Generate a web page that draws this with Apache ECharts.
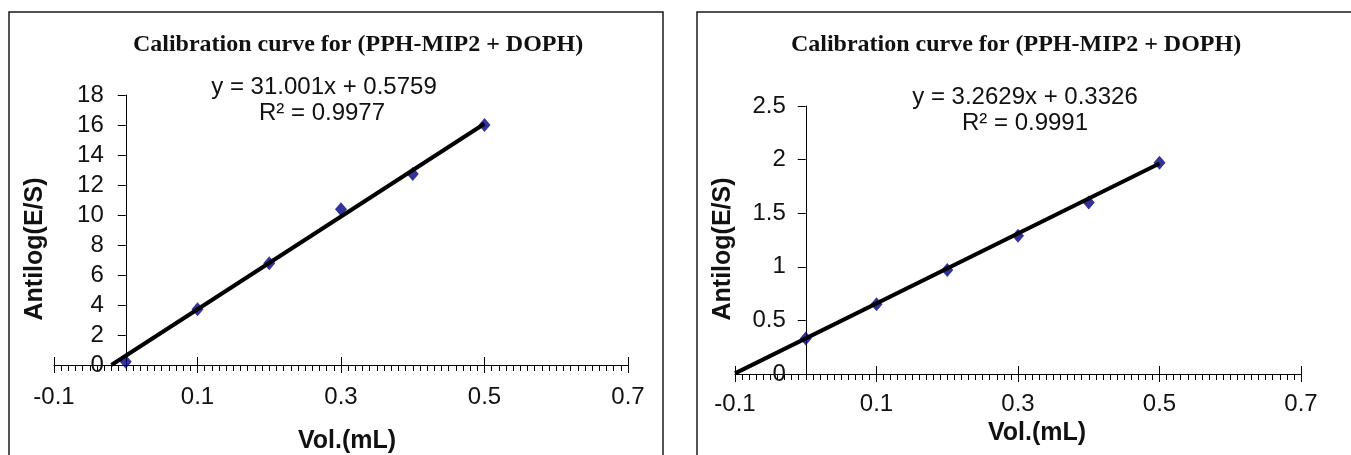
<!DOCTYPE html>
<html>
<head>
<meta charset="utf-8" />
<title>Calibration curve for (PPH-MIP2 + DOPH)</title>
<script src="https://cdn.jsdelivr.net/npm/echarts@6/dist/echarts.min.js"></script>
<style>
    html, body { margin: 0; padding: 0; background: #fff; }
    #main { width: 1351px; height: 455px; }
</style>
</head>
<body>
<div id="main"></div>
<script>
    // values
    var volumes = [0, 0.1, 0.2, 0.3, 0.4, 0.5];
    var antilogLeft = [0.22, 3.71, 6.78, 10.38, 12.73, 16.0];
    var antilogRight = [0.33, 0.65, 0.97, 1.29, 1.60, 1.97];
    // trend line end points (Excel linear trendline)
    var trendLeft = [[-0.02, 0], [0.5, 16.08]];
    var trendRight = [[-0.1, 0.006], [0.5, 1.964]];
    // axis ranges / steps
    var xRange = [-0.1, 0.7], xStep = 0.2;
    var yRangeLeft = [0, 18], yStepLeft = 2;
    var yRangeRight = [0, 2.5], yStepRight = 0.5;
    var titleText = 'Calibration curve for (PPH-MIP2 + DOPH)';
    var eqLeft = ['y = 31.001x + 0.5759', 'R\u00b2 = 0.9977'];
    var eqRight = ['y = 3.2629x + 0.3326', 'R\u00b2 = 0.9991'];

    var SANS = '"Liberation Sans", Arial, sans-serif';
    var SERIF = '"Liberation Serif", "Times New Roman", serif';

    var grids = [
        { left: 54, top: 95, width: 574, height: 270, containLabel: false, outerBoundsMode: 'none' },
        { left: 735, top: 106, width: 566, height: 268, containLabel: false, outerBoundsMode: 'none' }
    ];

    function pairs(xs, ys) {
        return xs.map(function (x, i) { return [x, ys[i]]; });
    }
    // pixel distance from the grid's left edge to x = 0, so the y axis can sit there
    function zeroOffset(g) {
        return -grids[g].width * (0 - xRange[0]) / (xRange[1] - xRange[0]);
    }

    // main x axis: labels, major ticks (down), minor ticks
    function xMain(grid, gap, labelMargin, namePad) {
        return {
            type: 'value', gridIndex: grid, position: 'bottom', min: xRange[0], max: xRange[1], interval: xStep,
            axisLine: { onZero: false, lineStyle: { color: '#000', width: 1 } },
            axisTick: { show: true, inside: false, length: 8, lineStyle: { color: '#000' } },
            minorTick: { show: true, splitNumber: 20, length: 6, lineStyle: { color: '#000' } },
            axisLabel: { margin: labelMargin, fontSize: 24, color: '#111', fontFamily: SANS, showMinLabel: true, showMaxLabel: true },
            splitLine: { show: false },
            name: 'Vol.(mL)', nameLocation: 'middle', nameGap: gap, nameMoveOverlap: false,
            nameTextStyle: { fontSize: 25, fontWeight: 'bold', color: '#111', fontFamily: SANS, padding: [0, 0, 0, namePad] }
        };
    }
    // overlay axis, only draws the upper half of the major ticks
    function xOverlay(grid) {
        return {
            type: 'value', gridIndex: grid, position: 'bottom', min: xRange[0], max: xRange[1], interval: xStep,
            axisLine: { show: false, onZero: false },
            axisTick: { show: true, inside: true, length: 8, lineStyle: { color: '#000' } },
            axisLabel: { show: false },
            splitLine: { show: false }
        };
    }
    function yAxis(grid, range, step, gap, labelMargin, namePad) {
        return {
            type: 'value', gridIndex: grid, position: 'left', offset: zeroOffset(grid),
            min: range[0], max: range[1], interval: step,
            axisLine: { show: true, onZero: false, lineStyle: { color: '#000', width: 1 } },
            axisTick: { show: true, inside: false, length: 8, lineStyle: { color: '#000' } },
            axisLabel: { margin: labelMargin, fontSize: 24, color: '#111', fontFamily: SANS },
            splitLine: { show: false },
            name: 'Antilog(E/S)', nameLocation: 'middle', nameGap: gap, nameMoveOverlap: false,
            nameTextStyle: { fontSize: 25, fontWeight: 'bold', color: '#111', fontFamily: SANS, padding: [0, namePad, 0, 0] }
        };
    }
    function text(str, x, y, size, bold, family) {
        return {
            type: 'text', x: x, y: y, silent: true,
            style: {
                text: str, fontSize: size, fontWeight: bold ? 'bold' : 'normal', fontFamily: family,
                fill: '#111', align: 'center', verticalAlign: 'middle'
            }
        };
    }

    var chart = echarts.init(document.getElementById('main'));
    var option = {
        animation: false,
        backgroundColor: '#fff',
        grid: grids,
        xAxis: [
            xMain(0, 64, 20, 12), xOverlay(0),
            xMain(1, 47, 18, 38), xOverlay(1)
        ],
        yAxis: [
            yAxis(0, yRangeLeft, yStepLeft, 78, 22, 38),
            yAxis(1, yRangeRight, yStepRight, 70, 20, 18)
        ],
        graphic: [
            { type: 'rect', silent: true, shape: { x: 9, y: 12, width: 654, height: 470 }, style: { fill: 'none', stroke: '#1a1a1a', lineWidth: 1.5 } },
            { type: 'rect', silent: true, shape: { x: 697, y: 12, width: 700, height: 470 }, style: { fill: 'none', stroke: '#1a1a1a', lineWidth: 1.5 } },
            text(titleText, 358, 45, 24, true, SERIF),
            text(titleText, 1016, 45, 24, true, SERIF),
            text(eqLeft[0], 324, 87, 24, false, SANS),
            text(eqLeft[1], 322, 113, 24, false, SANS),
            text(eqRight[0], 1025, 97, 24, false, SANS),
            text(eqRight[1], 1025, 123, 24, false, SANS)
        ],
        series: [
            {
                type: 'scatter', xAxisIndex: 0, yAxisIndex: 0, data: pairs(volumes, antilogLeft),
                symbol: 'diamond', symbolSize: [12, 14], itemStyle: { color: '#00007f' }, z: 2
            },
            {
                type: 'line', xAxisIndex: 0, yAxisIndex: 0, data: trendLeft, showSymbol: false, silent: true,
                lineStyle: { color: '#000', width: 4 }, z: 3
            },
            {
                type: 'scatter', xAxisIndex: 2, yAxisIndex: 1, data: pairs(volumes, antilogRight),
                symbol: 'diamond', symbolSize: [12, 14], itemStyle: { color: '#00007f' }, z: 2
            },
            {
                type: 'line', xAxisIndex: 2, yAxisIndex: 1, data: trendRight, showSymbol: false, silent: true,
                lineStyle: { color: '#000', width: 4 }, z: 3
            }
        ]
    };
    chart.setOption(option);
</script>
</body>
</html>
